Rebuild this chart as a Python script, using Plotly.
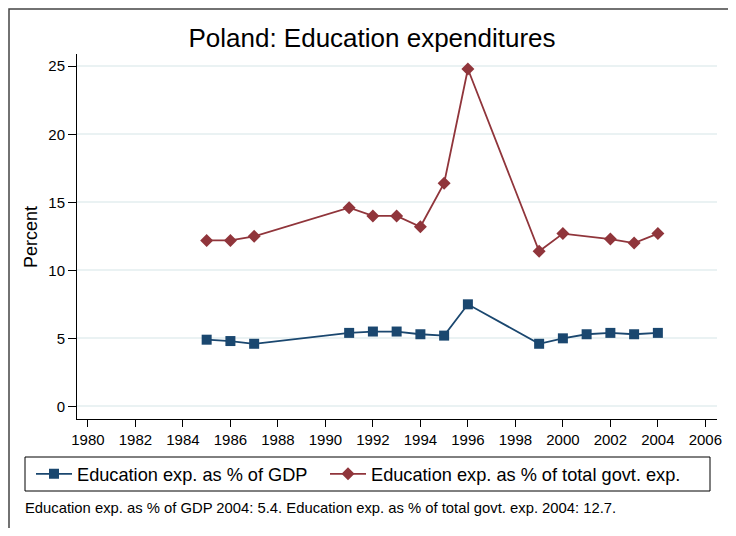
import plotly.graph_objects as go

years_gdp = [1985, 1986, 1987, 1991, 1992, 1993, 1994, 1995, 1996, 1999, 2000, 2001, 2002, 2003, 2004]
edu_gdp = [4.9, 4.8, 4.6, 5.4, 5.5, 5.5, 5.3, 5.2, 7.5, 4.6, 5.0, 5.3, 5.4, 5.3, 5.4]

years_gov = [1985, 1986, 1987, 1991, 1992, 1993, 1994, 1995, 1996, 1999, 2000, 2002, 2003, 2004]
edu_gov = [12.2, 12.2, 12.5, 14.6, 14.0, 14.0, 13.2, 16.4, 24.8, 11.4, 12.7, 12.3, 12.0, 12.7]

x_ticks = list(range(1980, 2007, 2))
y_ticks = [0, 5, 10, 15, 20, 25]

title_text = "Poland: Education expenditures"
name_gdp = "Education exp. as % of GDP"
name_gov = "Education exp. as % of total govt. exp."
note_text = "Education exp. as % of GDP 2004: 5.4. Education exp. as % of total govt. exp. 2004: 12.7."

NAVY = "#1a476f"
MAROON = "#90353b"
FONT = "Liberation Sans, Arial, Helvetica, sans-serif"

fig = go.Figure()
fig.add_trace(go.Scatter(
    x=years_gdp, y=edu_gdp, name=name_gdp, mode="lines+markers",
    line=dict(color=NAVY, width=1.8),
    marker=dict(symbol="square", size=10, color=NAVY),
    legendwidth=243,
))
fig.add_trace(go.Scatter(
    x=years_gov, y=edu_gov, name=name_gov, mode="lines+markers",
    line=dict(color=MAROON, width=1.8),
    marker=dict(symbol="diamond", size=10, color=MAROON),
    legendwidth=330,
))

# page has an 8px body margin; work in page pixel coordinates
OFF = 8
W, H = 736 - OFF, 536 - 2 * OFF
L, R, T = 77 - OFF, 19, 54 - OFF
B = (OFF + H) - 419
pw, ph = W - L - R, H - T - B

def px_x(px):
    return (px - OFF - L) / pw

def px_y(py):
    return (H - B - (py - OFF)) / ph

fig.update_layout(
    width=W, height=H,
    margin=dict(l=L, r=R, t=T, b=B, pad=0),
    paper_bgcolor="white", plot_bgcolor="white",
    font=dict(family=FONT, color="black", size=15),
    title=dict(text=title_text, x=px_x(397), xanchor="center",
               y=1 - (38 - OFF) / H, yanchor="middle", yref="container",
               font=dict(size=26, color="black")),
    showlegend=True,
    legend=dict(orientation="h", x=px_x(31), xanchor="left",
                y=px_y(474), yanchor="middle", itemwidth=36,
                font=dict(size=18.2), borderwidth=0, bgcolor="rgba(0,0,0,0)",
                tracegroupgap=0),
    xaxis=dict(range=[1979.54, 2006.49], tickvals=x_ticks, showgrid=False,
               zeroline=False, showline=True, linecolor="black", linewidth=1,
               ticks="outside", ticklen=7, tickcolor="black", tickwidth=1,
               tickfont=dict(size=15)),
    yaxis=dict(range=[-0.93, 25.9], tickvals=y_ticks, showgrid=True,
               gridcolor="#eaf2f3", gridwidth=1.5, zeroline=False,
               showline=True, linecolor="black", linewidth=1,
               ticks="outside", ticklen=8, tickcolor="black", tickwidth=1,
               tickfont=dict(size=15)),
    shapes=[
        dict(type="rect", xref="paper", yref="paper",
             x0=px_x(OFF + 1), x1=px_x(734), y0=px_y(560), y1=px_y(OFF + 1),
             line=dict(color="#444444", width=1.5), fillcolor="rgba(0,0,0,0)"),
        dict(type="rect", xref="paper", yref="paper",
             x0=px_x(25), x1=px_x(710), y0=px_y(491), y1=px_y(457),
             line=dict(color="black", width=1), fillcolor="rgba(0,0,0,0)"),
    ],
    annotations=[
        dict(text="Percent", textangle=-90, xref="paper", yref="paper",
             x=px_x(31), y=px_y(237), xanchor="center", yanchor="middle",
             showarrow=False, font=dict(size=18)),
        dict(text=note_text, xref="paper", yref="paper",
             x=px_x(23), y=px_y(508), xanchor="left", yanchor="middle",
             showarrow=False, font=dict(size=14.8)),
    ],
)

fig.write_html("out.html")
